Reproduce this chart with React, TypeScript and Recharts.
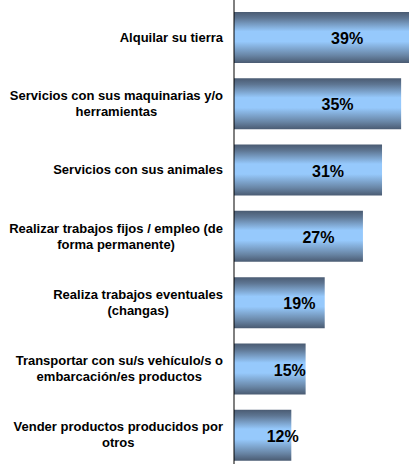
import React from "react";
import { BarChart, Bar, XAxis, YAxis, LabelList } from "recharts";

const categories = [
  "Alquilar su tierra",
  "Servicios con sus maquinarias y/o\nherramientas",
  "Servicios con sus animales",
  "Realizar trabajos fijos / empleo (de\nforma permanente)",
  "Realiza trabajos eventuales\n(changas)",
  "Transportar con su/s vehículo/s o\nembarcación/es productos",
  "Vender productos producidos por\notros",
];

const values = [39, 35, 31, 27, 19, 15, 12];

const data = categories.map((name, i) => ({ name, value: values[i] }));

const LABEL_FONT = 'bold 13px "Liberation Sans", Arial, sans-serif';

let measureCtx: CanvasRenderingContext2D | null = null;
function measure(text: string): number {
  if (!measureCtx) {
    const c = document.createElement("canvas");
    measureCtx = c.getContext("2d");
  }
  if (!measureCtx) return text.length * 7;
  measureCtx.font = LABEL_FONT;
  return measureCtx.measureText(text).width;
}

const CategoryTick = (props: any) => {
  const { x, y, payload } = props;
  const lines = String(payload.value).split("\n");
  const blockW = Math.max(...lines.map(measure));
  const cx = x - blockW / 2;
  const lh = 16;
  const startY = y - ((lines.length - 1) * lh) / 2;
  return (
    <g>
      {lines.map((ln, i) => (
        <text
          key={i}
          x={cx}
          y={startY + i * lh}
          dy="0.35em"
          textAnchor="middle"
          fontFamily='"Liberation Sans", Arial, sans-serif'
          fontWeight="bold"
          fontSize={13}
          fill="#000"
        >
          {ln}
        </text>
      ))}
    </g>
  );
};

const ValueLabel = (props: any) => {
  const { x, y, width, height, value } = props;
  return (
    <text
      x={x + width / 2 + 20}
      y={y + height / 2 + 1}
      dy="0.35em"
      textAnchor="middle"
      fontFamily='"Liberation Sans", Arial, sans-serif'
      fontWeight="bold"
      fontSize={16}
      fill="#000"
    >
      {`${value}%`}
    </text>
  );
};

export default function App() {
  return (
    <div
      style={{
        position: "absolute",
        left: 0,
        top: 0,
        width: 409,
        height: 464,
        overflow: "hidden",
        background: "#fff",
      }}
    >
      <BarChart
        width={430}
        height={468}
        data={data}
        layout="vertical"
        margin={{ top: 0, right: 5, left: 0, bottom: 0 }}
      >
        <defs>
          <linearGradient id="barGrad" x1="0" y1="0" x2="0" y2="1">
            <stop offset="0%" stopColor="#4a5b72" />
            <stop offset="12%" stopColor="#5e7693" />
            <stop offset="38%" stopColor="#96c9fc" />
            <stop offset="58%" stopColor="#96c9fc" />
            <stop offset="85%" stopColor="#6986a6" />
            <stop offset="100%" stopColor="#4a5b72" />
          </linearGradient>
        </defs>
        <XAxis type="number" domain={[0, 40]} hide />
        <YAxis
          type="category"
          dataKey="name"
          width={234}
          tickSize={0}
          tickMargin={11}
          tickLine={false}
          axisLine={{ stroke: "#000", strokeWidth: 1 }}
          tick={<CategoryTick />}
          interval={0}
          padding={{ top: 4, bottom: 0 }}
        />
        <Bar
          dataKey="value"
          fill="url(#barGrad)"
          barSize={51}
          isAnimationActive={false}
        >
          <LabelList dataKey="value" content={<ValueLabel />} />
        </Bar>
      </BarChart>
    </div>
  );
}
